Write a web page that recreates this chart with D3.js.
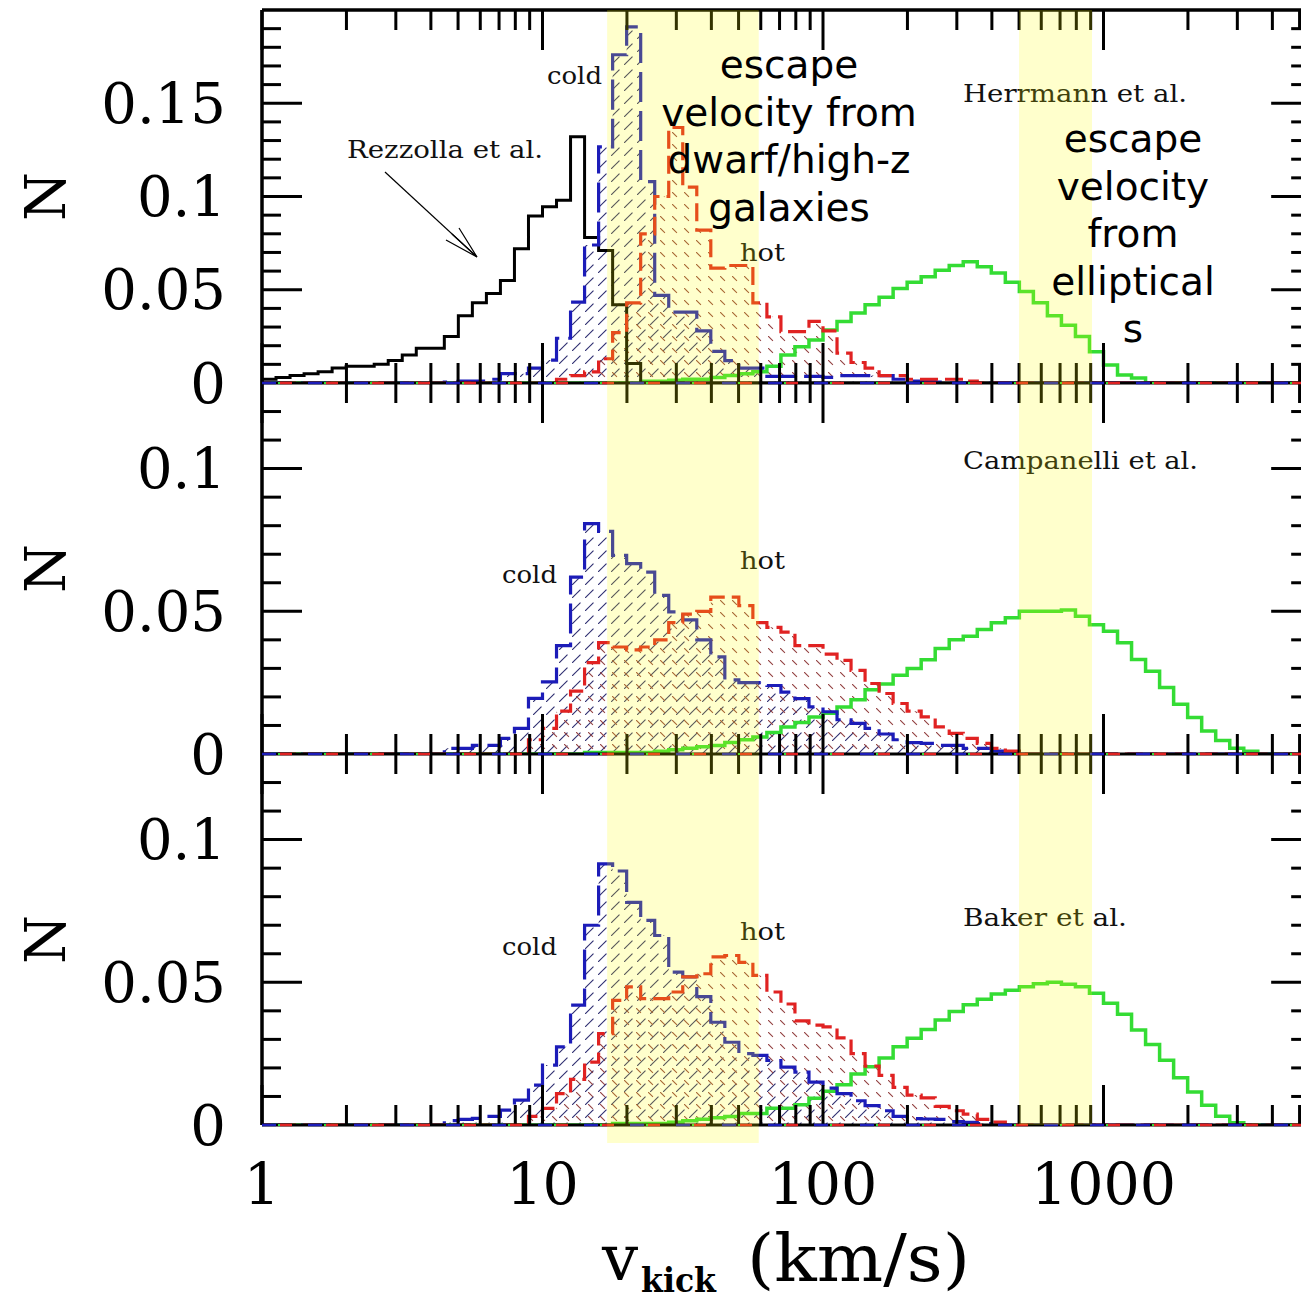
<!DOCTYPE html>
<html>
<head>
<meta charset="utf-8">
<script src="https://cdn.jsdelivr.net/npm/d3@7"></script>
<style>
  body { margin: 0; background: #fff; }
  svg { display: block; }
</style>
</head>
<body>
<div id="chart"></div>
<script>
// Histogram bins: 20 per decade, starting at 1 km/s
const binsPerDecade = 20;
const nBins = 75;

// Top panel (Rezzolla et al. + Herrmann et al.), values start at bin index given by *Start
const rezzollaStart = 0;
const rezzolla = [0.002, 0.003, 0.004, 0.005, 0.006, 0.008, 0.009, 0.009, 0.010, 0.012, 0.015, 0.0186, 0.0186,
  0.025, 0.036, 0.043, 0.048, 0.055, 0.072, 0.0895, 0.0945, 0.098, 0.132, 0.078, 0.071, 0.042, 0.0105];

const herrmannColdStart = 13;
const herrmannCold = [0.0005, 0.001, 0.001, 0.002, 0.005, 0.005, 0.008, 0.0123, 0.024, 0.0434, 0.074, 0.1266,
  0.176, 0.191, 0.108, 0.047, 0.038, 0.038, 0.028, 0.017, 0.012, 0.008, 0.008, 0.0035, 0.0035, 0.0035, 0.0035,
  0.003, 0.004, 0.004, 0.004, 0.004, 0.002, 0.001, 0.001, 0.0005];

const herrmannHotStart = 21;
const herrmannHot = [0.002, 0.004, 0.006, 0.013, 0.027, 0.043, 0.080, 0.100, 0.137, 0.105, 0.082, 0.0616, 0.063,
  0.063, 0.043, 0.0355, 0.0275, 0.0275, 0.033, 0.028, 0.016, 0.011, 0.008, 0.004, 0.004, 0.002, 0.002, 0.002,
  0.002, 0.001];

const herrmannStart = 27;
const herrmann = [0.001, 0.001, 0.0015, 0.002, 0.002, 0.003, 0.004, 0.005, 0.006, 0.009, 0.015, 0.0195, 0.023,
  0.0284, 0.033, 0.0375, 0.042, 0.046, 0.0507, 0.054, 0.057, 0.0605, 0.063, 0.065, 0.0623, 0.059, 0.054, 0.049,
  0.043, 0.036, 0.031, 0.025, 0.0168, 0.0096, 0.0043, 0.0027];

// Middle panel (Campanelli et al.)
const campanelliColdStart = 13;
const campanelliCold = [0.002, 0.002, 0.003, 0.003, 0.0055, 0.009, 0.0195, 0.0253, 0.038, 0.062, 0.0807, 0.078,
  0.0696, 0.0667, 0.0637, 0.0556, 0.0498, 0.047, 0.040, 0.034, 0.026, 0.025, 0.025, 0.024, 0.0217, 0.0194, 0.0165,
  0.0148, 0.012, 0.0107, 0.009, 0.007, 0.005, 0.004, 0.0037, 0.003, 0.003, 0.002, 0.002, 0.001];

const campanelliHotStart = 19;
const campanelliHot = [0.005, 0.009, 0.015, 0.022, 0.032, 0.039, 0.0375, 0.0365, 0.0375, 0.040, 0.046, 0.049,
  0.050, 0.055, 0.055, 0.052, 0.046, 0.0444, 0.0427, 0.038, 0.038, 0.035, 0.0328, 0.0293, 0.0247, 0.0212, 0.0177,
  0.015, 0.013, 0.0095, 0.0072, 0.0055, 0.0037, 0.002, 0.001];

const campanelliStart = 23;
const campanelli = [0.0005, 0.0005, 0.0005, 0.0005, 0.0005, 0.001, 0.0015, 0.002, 0.0025, 0.003, 0.004, 0.005,
  0.006, 0.0075, 0.0095, 0.011, 0.013, 0.0143, 0.0165, 0.019, 0.0225, 0.0245, 0.0276, 0.030, 0.033, 0.037, 0.040,
  0.0413, 0.0436, 0.046, 0.0477, 0.050, 0.050, 0.050, 0.0505, 0.0483, 0.0453, 0.043, 0.039, 0.0331, 0.029, 0.0233,
  0.0174, 0.0128, 0.0081, 0.0047, 0.002, 0.001];

// Bottom panel (Baker et al.)
const bakerColdStart = 13;
const bakerCold = [0.0015, 0.002, 0.0023, 0.003, 0.0052, 0.0087, 0.014, 0.021, 0.0274, 0.042, 0.070, 0.0915,
  0.089, 0.078, 0.0717, 0.0664, 0.0536, 0.0519, 0.045, 0.036, 0.029, 0.025, 0.0244, 0.0226, 0.0203, 0.0185, 0.015,
  0.0129, 0.011, 0.0085, 0.0068, 0.005, 0.003, 0.0022, 0.0021, 0.002, 0.0012, 0.0009, 0.0005];

const bakerHotStart = 19;
const bakerHot = [0.003, 0.0058, 0.011, 0.016, 0.022, 0.032, 0.0437, 0.0484, 0.0443, 0.0443, 0.0466, 0.0519,
  0.053, 0.0589, 0.0594, 0.057, 0.0524, 0.0466, 0.0424, 0.0365, 0.035, 0.0344, 0.0305, 0.025, 0.0206, 0.0174,
  0.0132, 0.0105, 0.0095, 0.0065, 0.005, 0.0038, 0.002, 0.001];

const bakerStart = 25;
const baker = [0.0005, 0.0005, 0.0005, 0.0005, 0.001, 0.0015, 0.002, 0.0025, 0.003, 0.004, 0.004, 0.0059, 0.0059,
  0.0071, 0.0094, 0.0118, 0.0141, 0.0179, 0.0204, 0.0235, 0.0274, 0.0304, 0.0335, 0.0368, 0.0398, 0.0421, 0.0441,
  0.0459, 0.0472, 0.0484, 0.0495, 0.050, 0.0493, 0.0484, 0.0462, 0.0427, 0.0388, 0.0333, 0.0282, 0.0227, 0.0166,
  0.0116, 0.0069, 0.0031, 0.0008];

// Axis ticks and escape-velocity bands (km/s)
const xMajorTicks = [1, 10, 100, 1000];
const xMinorTicks = [2, 3, 4, 5, 6, 7, 8, 9, 20, 30, 40, 50, 60, 70, 80, 90, 200, 300, 400, 500, 600, 700, 800, 900,
  2000, 3000, 4000, 5000];
const yTicksTop = [0, 0.05, 0.1, 0.15];
const yTicksLower = [0, 0.05, 0.1];
const dwarfBand = [17, 59];
const ellipticalBand = [500, 910];

const width = 1301, height = 1303;
const left = 262, pxPerDecade = 280.5, xMaxVal = 5500;

const svg = d3.select('#chart').append('svg')
  .attr('width', width)
  .attr('height', height);

const x = d3.scaleLog()
  .domain([1, xMaxVal])
  .range([left, left + pxPerDecade * Math.log10(xMaxVal)]);

const edges = d3.range(nBins + 1).map(k => Math.pow(10, k / binsPerDecade));

function fullBins(start, vals) {
  const a = new Array(nBins).fill(0);
  vals.forEach((v, i) => { a[start + i] = v; });
  return a;
}

const panels = [
  { top: 10, bottom: 383, max: 0.2, ticks: yTicksTop, minorMax: 0.19,
    cold: fullBins(herrmannColdStart, herrmannCold), hot: fullBins(herrmannHotStart, herrmannHot),
    green: fullBins(herrmannStart, herrmann), black: fullBins(rezzollaStart, rezzolla) },
  { top: 383, bottom: 754, max: 0.13, ticks: yTicksLower, minorMax: 0.12,
    cold: fullBins(campanelliColdStart, campanelliCold), hot: fullBins(campanelliHotStart, campanelliHot),
    green: fullBins(campanelliStart, campanelli) },
  { top: 754, bottom: 1125, max: 0.13, ticks: yTicksLower, minorMax: 0.12,
    cold: fullBins(bakerColdStart, bakerCold), hot: fullBins(bakerHotStart, bakerHot),
    green: fullBins(bakerStart, baker) }
];

// Hatch patterns
const defs = svg.append('defs');
const pBlue = defs.append('pattern')
  .attr('id', 'hatchBlue').attr('patternUnits', 'userSpaceOnUse')
  .attr('width', 13).attr('height', 13);
pBlue.append('path')
  .attr('d', 'M0,13 L13,0')
  .attr('stroke', '#2e2e70').attr('stroke-width', 1.1)
  .attr('stroke-dasharray', '12,6.4');
const pRed = defs.append('pattern')
  .attr('id', 'hatchRed').attr('patternUnits', 'userSpaceOnUse')
  .attr('width', 12).attr('height', 12);
pRed.append('path')
  .attr('d', 'M0,0 L12,12')
  .attr('stroke', '#924040').attr('stroke-width', 1.1)
  .attr('stroke-dasharray', '7,10');

const xRight = x.range()[1];

panels.forEach((p, i) => {
  const y = d3.scaleLinear().domain([0, p.max]).range([p.bottom, p.top]);
  p.y = y;

  defs.append('clipPath').attr('id', `clip${i}`)
    .append('rect')
    .attr('x', left).attr('y', p.top)
    .attr('width', xRight - left).attr('height', p.bottom - p.top);

  const g = svg.append('g').attr('clip-path', `url(#clip${i})`);

  const pts = a => {
    const out = a.map((v, k) => [edges[k], v]);
    out.push([edges[nBins], a[nBins - 1]]);
    return out;
  };
  const line = d3.line().x(d => x(d[0])).y(d => y(d[1])).curve(d3.curveStepAfter);
  const area = d3.area().x(d => x(d[0])).y0(y(0)).y1(d => y(d[1])).curve(d3.curveStepAfter);

  g.append('path').attr('d', area(pts(p.cold))).attr('fill', 'url(#hatchBlue)');
  g.append('path').attr('d', area(pts(p.hot))).attr('fill', 'url(#hatchRed)');

  g.append('path').attr('d', line(pts(p.green)))
    .attr('fill', 'none').attr('stroke', '#34dc34').attr('stroke-width', 3.5);
  if (p.black) {
    g.append('path').attr('d', line(pts(p.black)))
      .attr('fill', 'none').attr('stroke', '#000').attr('stroke-width', 3);
  }
  g.append('path').attr('d', line(pts(p.cold)))
    .attr('fill', 'none').attr('stroke', '#1c1cb8').attr('stroke-width', 3.2)
    .attr('stroke-dasharray', '30,9');
  g.append('path').attr('d', line(pts(p.hot)))
    .attr('fill', 'none').attr('stroke', '#e02222').attr('stroke-width', 3.2)
    .attr('stroke-dasharray', '18,7').attr('stroke-dashoffset', 9);

  // y ticks, left (inward) and right (inward, frame sits just past the picture edge)
  const minor = d3.range(1, Math.round(p.minorMax * 100) + 1).map(d => d / 100)
    .filter(d => !p.ticks.some(t => Math.abs(t - d) < 1e-9));
  const axisG = svg.append('g').attr('stroke', '#000').attr('stroke-width', 3);
  axisG.selectAll(null).data(minor).join('line')
    .attr('x1', left).attr('x2', left + 19).attr('y1', d => y(d)).attr('y2', d => y(d));
  axisG.selectAll(null).data(p.ticks.filter(t => t > 0)).join('line')
    .attr('x1', left).attr('x2', left + 40).attr('y1', d => y(d)).attr('y2', d => y(d));
  axisG.selectAll(null).data(minor).join('line')
    .attr('x1', xRight).attr('x2', xRight - 20).attr('y1', d => y(d)).attr('y2', d => y(d));
  axisG.selectAll(null).data(p.ticks.filter(t => t > 0)).join('line')
    .attr('x1', xRight).attr('x2', xRight - 40).attr('y1', d => y(d)).attr('y2', d => y(d));

  // x ticks along top and bottom of each panel
  [[p.top, 1], [p.bottom, -1]].forEach(([yy, dir]) => {
    axisG.selectAll(null).data(xMinorTicks).join('line')
      .attr('x1', d => x(d)).attr('x2', d => x(d)).attr('y1', yy).attr('y2', yy + dir * 20);
    axisG.selectAll(null).data(xMajorTicks).join('line')
      .attr('x1', d => x(d)).attr('x2', d => x(d)).attr('y1', yy).attr('y2', yy + dir * 40);
  });

  // y tick labels
  svg.append('g').selectAll('text').data(p.ticks).join('text')
    .attr('x', 226).attr('y', d => y(d))
    .attr('text-anchor', 'end').attr('dominant-baseline', 'central')
    .attr('font-family', 'DejaVu Serif').attr('font-size', 56)
    .text(d => d === 0 ? '0' : String(d));

  svg.append('text')
    .attr('transform', `translate(45,${(p.top + p.bottom) / 2}) rotate(-90)`)
    .attr('text-anchor', 'middle').attr('dominant-baseline', 'central')
    .attr('font-family', 'DejaVu Serif').attr('font-size', 56)
    .text('N');
});

// frame
const frame = svg.append('g').attr('stroke', '#000').attr('stroke-width', 3.5);
frame.append('line').attr('x1', left).attr('x2', left).attr('y1', 10).attr('y2', 1125);
[10, 383, 754, 1125].forEach(yy => {
  frame.append('line').attr('x1', left).attr('x2', xRight).attr('y1', yy).attr('y2', yy)
    .attr('stroke-width', yy === 10 ? 3.5 : 3);
});
// coloured bits of the zero lines showing over the frame
panels.forEach(p => {
  const zeroLine = d3.line().x(d => x(d)).y(() => p.bottom);
  const span = [1, xMaxVal];
  svg.append('path').attr('d', zeroLine(span)).attr('stroke', '#34dc34').attr('stroke-width', 2)
    .attr('stroke-dasharray', '6,40').attr('stroke-dashoffset', 30).attr('fill', 'none');
  svg.append('path').attr('d', zeroLine(span)).attr('stroke', '#1c1cb8').attr('stroke-width', 2.5)
    .attr('stroke-dasharray', '14,32').attr('fill', 'none');
  svg.append('path').attr('d', zeroLine(span)).attr('stroke', '#e02222').attr('stroke-width', 2.5)
    .attr('stroke-dasharray', '12,34').attr('stroke-dashoffset', -18).attr('fill', 'none');
});

// x tick labels
svg.append('g').selectAll('text').data(xMajorTicks).join('text')
  .attr('x', d => x(d)).attr('y', 1204)
  .attr('text-anchor', 'middle')
  .attr('font-family', 'DejaVu Serif').attr('font-size', 57)
  .text(d => d);

// x axis title
svg.append('text').attr('x', 602).attr('y', 1280)
  .attr('font-family', 'DejaVu Serif').attr('font-size', 64).text('v');
svg.append('text').attr('x', 641).attr('y', 1292)
  .attr('font-family', 'DejaVu Serif').attr('font-weight', 'bold').attr('font-size', 34)
  .attr('textLength', 75).attr('lengthAdjust', 'spacingAndGlyphs').text('kick');
svg.append('text').attr('x', 747).attr('y', 1281)
  .attr('font-family', 'DejaVu Serif').attr('font-size', 66)
  .attr('textLength', 223).attr('lengthAdjust', 'spacingAndGlyphs').text('(km/s)');

// small labels
const labels = [
  { t: 'Rezzolla et al.', x: 347, y: 158, w: 196 },
  { t: 'cold', x: 547, y: 84, w: 55 },
  { t: 'hot', x: 740, y: 261, w: 45 },
  { t: 'Herrmann et al.', x: 963, y: 102, w: 224 },
  { t: 'Campanelli et al.', x: 963, y: 469, w: 235 },
  { t: 'cold', x: 502, y: 583, w: 55 },
  { t: 'hot', x: 740, y: 569, w: 45 },
  { t: 'Baker et al.', x: 963, y: 926, w: 164 },
  { t: 'cold', x: 502, y: 955, w: 55 },
  { t: 'hot', x: 740, y: 940, w: 45 }
];
svg.append('g').selectAll('text').data(labels).join('text')
  .attr('x', d => d.x).attr('y', d => d.y)
  .attr('font-family', 'DejaVu Serif').attr('font-size', 24)
  .attr('textLength', d => d.w).attr('lengthAdjust', 'spacingAndGlyphs')
  .attr('fill', '#111')
  .text(d => d.t);

// arrow for Rezzolla et al.
const arrow = svg.append('g').attr('stroke', '#000').attr('stroke-width', 1.2).attr('fill', 'none');
arrow.append('line').attr('x1', 385).attr('y1', 172).attr('x2', 477).attr('y2', 257);
arrow.append('path').attr('d', 'M477,257 L446,240 M477,257 L459,228 M477,257 L452,234');

// escape velocity bands (translucent yellow over everything)
const bandTop = panels[0].top;
svg.append('rect')
  .attr('x', x(dwarfBand[0])).attr('width', x(dwarfBand[1]) - x(dwarfBand[0]))
  .attr('y', bandTop).attr('height', 1143 - bandTop)
  .attr('fill', '#ffff00').attr('opacity', 0.2);
svg.append('rect')
  .attr('x', x(ellipticalBand[0])).attr('width', x(ellipticalBand[1]) - x(ellipticalBand[0]))
  .attr('y', bandTop).attr('height', 1125 - bandTop)
  .attr('fill', '#ffff00').attr('opacity', 0.2);

// annotations
const annot = [
  { x: 789, y0: 78, lines: ['escape', 'velocity from', 'dwarf/high-z', 'galaxies'] },
  { x: 1133, y0: 152, lines: ['escape', 'velocity', 'from', 'elliptical', 's'] }
];
annot.forEach(a => {
  svg.append('g').selectAll('text').data(a.lines).join('text')
    .attr('x', a.x).attr('y', (d, i) => a.y0 + i * 47.5)
    .attr('text-anchor', 'middle')
    .attr('font-family', 'DejaVu Sans').attr('font-size', 39)
    .attr('fill', '#000')
    .text(d => d);
});
</script>
</body>
</html>
